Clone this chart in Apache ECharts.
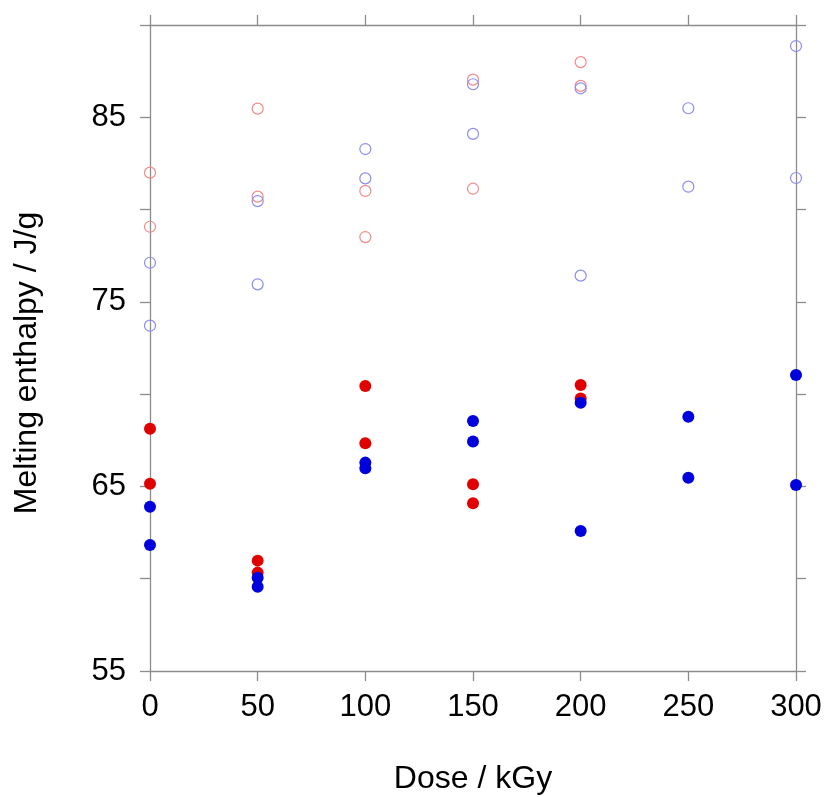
<!DOCTYPE html>
<html>
<head>
<meta charset="utf-8">
<script src="https://cdn.jsdelivr.net/npm/echarts@6/dist/echarts.min.js"></script>
<style>html,body{margin:0;padding:0;background:#fff}#c{width:826px;height:797px}</style>
</head>
<body>
<div id="c"></div>
<script>
// Dose (kGy) values and melting enthalpy (J/g) readings
const openRed = [[0,82.0],[0,79.07],[50,85.47],[50,80.70],[100,81.01],[100,78.51],[150,87.04],[150,81.13],[200,87.99],[200,86.70]];
const openBlue = [[0,77.12],[0,73.71],[50,80.46],[50,75.95],[100,83.28],[100,81.69],[150,86.79],[150,84.10],[200,86.57],[200,76.42],[250,85.49],[250,81.24],[300,88.86],[300,81.71]];
const filledRed = [[0,68.13],[0,65.15],[50,60.98],[50,60.33],[100,70.44],[100,67.34],[150,65.12],[150,64.09],[200,70.50],[200,69.77]];
const filledBlue = [[0,63.90],[0,61.83],[50,60.05],[50,59.57],[100,66.29],[100,65.98],[150,68.55],[150,67.44],[200,69.54],[200,62.59],[250,68.78],[250,65.47],[300,71.04],[300,65.08]];
const yLabeled = [55,65,75,85];
const xTitle = 'Dose / kGy';
const yTitle = 'Melting enthalpy / J/g';

const axisCol = '#8c8c8c';
const font = 'Liberation Sans, Arial, sans-serif';
const lineStyle = {color: axisCol, width: 1.3};
const chart = echarts.init(document.getElementById('c'), null, {renderer: 'canvas'});
chart.setOption({
  animation: false,
  backgroundColor: '#fff',
  grid: {left: 150, right: 30, top: 25, bottom: 126, containLabel: false, outerBoundsMode: 'none'},
  xAxis: [
    {type: 'value', min: 0, max: 300, interval: 50, position: 'bottom',
     axisLine: {show: true, onZero: false, lineStyle},
     axisTick: {show: true, inside: false, length: 10, lineStyle},
     splitLine: {show: false},
     axisLabel: {fontSize: 31, fontFamily: font, color: '#000', margin: 21},
     name: xTitle, nameLocation: 'middle', nameGap: 92,
     nameTextStyle: {fontSize: 32, fontFamily: font, color: '#000'}},
    {type: 'value', min: 0, max: 300, interval: 50, position: 'top',
     axisLine: {show: true, onZero: false, lineStyle},
     axisTick: {show: true, inside: false, length: 10, lineStyle},
     splitLine: {show: false}, axisLabel: {show: false}}
  ],
  yAxis: [
    {type: 'value', min: 55, max: 90, interval: 5, position: 'left',
     axisLine: {show: true, onZero: false, lineStyle},
     axisTick: {show: true, inside: false, length: 10, lineStyle},
     splitLine: {show: false},
     axisLabel: {fontSize: 31, fontFamily: font, color: '#000', margin: 24,
       formatter: v => yLabeled.includes(v) ? String(v) : ''},
     name: yTitle, nameLocation: 'middle', nameGap: 107, nameRotate: 90,
     nameTextStyle: {fontSize: 32, fontFamily: font, color: '#000', padding: [0, 30, 0, 0]}},
    {type: 'value', min: 55, max: 90, interval: 5, position: 'right',
     axisLine: {show: true, onZero: false, lineStyle},
     axisTick: {show: true, inside: false, length: 10, lineStyle},
     splitLine: {show: false}, axisLabel: {show: false}}
  ],
  series: [
    {type: 'scatter', data: openRed, symbol: 'circle', symbolSize: 11,
     itemStyle: {color: 'transparent', borderColor: '#f28a8a', borderWidth: 1.2, opacity: 1}},
    {type: 'scatter', data: openBlue, symbol: 'circle', symbolSize: 11,
     itemStyle: {color: 'transparent', borderColor: '#8c8cf2', borderWidth: 1.2, opacity: 1}},
    {type: 'scatter', data: filledRed, symbol: 'circle', symbolSize: 12,
     itemStyle: {color: '#e00000', opacity: 1}},
    {type: 'scatter', data: filledBlue, symbol: 'circle', symbolSize: 12,
     itemStyle: {color: '#0000dc', opacity: 1}}
  ]
});
</script>
</body>
</html>
